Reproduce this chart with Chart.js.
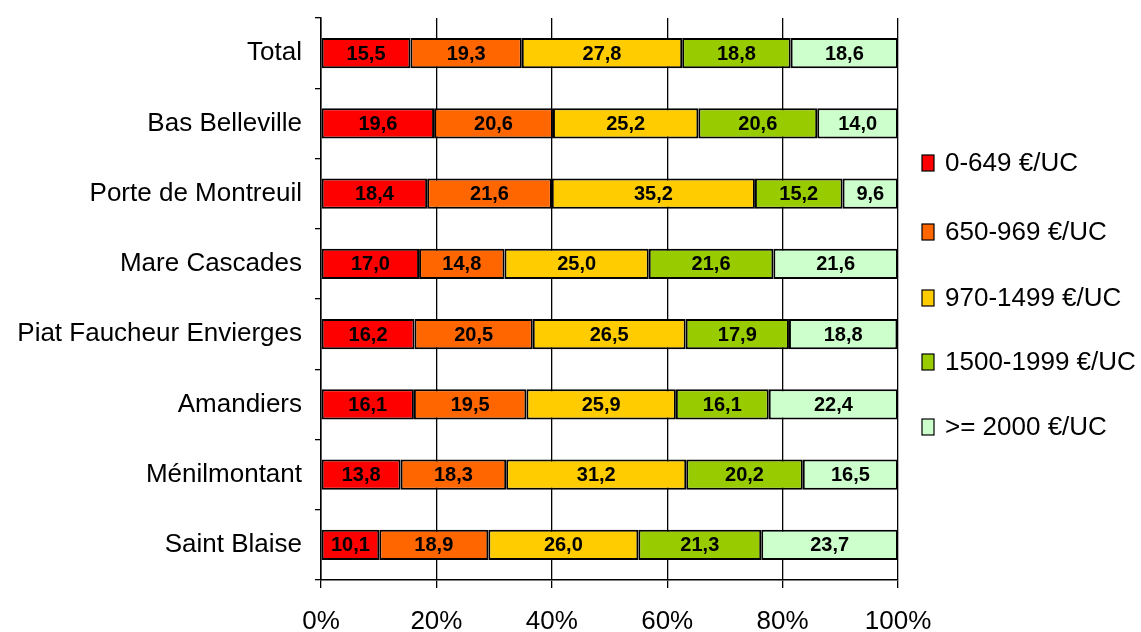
<!DOCTYPE html>
<html>
<head>
<meta charset="utf-8">
<script src="https://cdn.jsdelivr.net/npm/chart.js@4"></script>
<style>
  html, body { margin: 0; padding: 0; background: #fff; }
  #wrap { width: 1141px; height: 632px; }
</style>
</head>
<body>
<div id="wrap"><canvas id="barChart" width="1141" height="632"></canvas></div>
<script>
// data
const quartiers = ["Total", "Bas Belleville", "Porte de Montreuil", "Mare Cascades",
  "Piat Faucheur Envierges", "Amandiers", "Ménilmontant", "Saint Blaise"];
const tranches = ["0-649 €/UC", "650-969 €/UC", "970-1499 €/UC", "1500-1999 €/UC", ">= 2000 €/UC"];
const t0649 = [15.5, 19.6, 18.4, 17.0, 16.2, 16.1, 13.8, 10.1];
const t650969 = [19.3, 20.6, 21.6, 14.8, 20.5, 19.5, 18.3, 18.9];
const t9701499 = [27.8, 25.2, 35.2, 25.0, 26.5, 25.9, 31.2, 26.0];
const t15001999 = [18.8, 20.6, 15.2, 21.6, 17.9, 16.1, 20.2, 21.3];
const t2000 = [18.6, 14.0, 9.6, 21.6, 18.8, 22.4, 16.5, 23.7];
const xTicks = [0, 20, 40, 60, 80, 100];

const couleurs = ['#FF0000', '#FF6600', '#FFCC00', '#99CC00', '#CCFFCC'];
const series = [t0649, t650969, t9701499, t15001999, t2000];

// labels in the bars
const valueLabels = {
  id: 'valueLabels',
  afterDatasetsDraw(chart) {
    const c = chart.ctx;
    c.save();
    c.font = 'bold 20px "Liberation Sans", Arial, sans-serif';
    c.fillStyle = '#000';
    c.textAlign = 'center';
    c.textBaseline = 'middle';
    chart.data.datasets.forEach((ds, i) => {
      chart.getDatasetMeta(i).data.forEach((bar, j) => {
        const p = bar.getProps(['x', 'base', 'y'], true);
        c.fillText(ds.data[j].toFixed(1).replace('.', ','), (p.x + p.base) / 2, p.y + 1);
      });
    });
    c.restore();
  }
};

// legend on the right
const sideLegend = {
  id: 'sideLegend',
  afterDraw(chart) {
    const c = chart.ctx;
    const ys = [163, 232, 298, 362, 427];
    c.save();
    c.font = '26px "Liberation Sans", Arial, sans-serif';
    c.textBaseline = 'middle';
    c.lineWidth = 1.2;
    chart.data.datasets.forEach((ds, i) => {
      const y = ys[i];
      c.fillStyle = ds.backgroundColor;
      c.fillRect(922, y - 8, 12, 16);
      c.strokeStyle = '#000';
      c.strokeRect(922, y - 8, 12, 16);
      c.fillStyle = '#000';
      c.fillText(ds.label, 945, y + 1);
    });
    c.restore();
  }
};

const bar = document.getElementById("barChart");
new Chart(bar, {
  type: "bar",
  data: {
    labels: quartiers,
    datasets: series.map((d, i) => ({
      label: tranches[i],
      data: d,
      backgroundColor: couleurs[i],
      borderColor: '#000',
      borderWidth: 2,
      borderSkipped: false,
      barPercentage: 0.43,
      categoryPercentage: 1
    }))
  },
  options: {
    indexAxis: 'y',
    responsive: false,
    animation: false,
    layout: { padding: { top: 18, right: 243, bottom: 0, left: 0 } },
    plugins: { legend: { display: false }, tooltip: { enabled: false } },
    scales: {
      x: {
        stacked: true,
        min: 0,
        max: 100,
        afterBuildTicks: s => { s.ticks = xTicks.map(v => ({ value: v })); },
        afterFit: s => { s.height = 52; },
        grid: { color: '#000', lineWidth: 1.3, tickLength: 8 },
        border: { color: '#000', width: 1.5 },
        ticks: {
          color: '#000',
          padding: 18,
          font: { family: '"Liberation Sans", Arial, sans-serif', size: 26 },
          callback: v => v + '%'
        }
      },
      y: {
        stacked: true,
        afterFit: s => { s.width = 321; s.paddingTop = 0; s.paddingBottom = 0; },
        grid: { color: '#000', lineWidth: 1.3, drawOnChartArea: false, tickLength: 6, offset: true },
        border: { color: '#000', width: 1.5 },
        ticks: {
          color: '#000',
          padding: 13,
          font: { family: '"Liberation Sans", Arial, sans-serif', size: 26 }
        }
      }
    }
  },
  plugins: [valueLabels, sideLegend]
});
</script>
</body>
</html>
